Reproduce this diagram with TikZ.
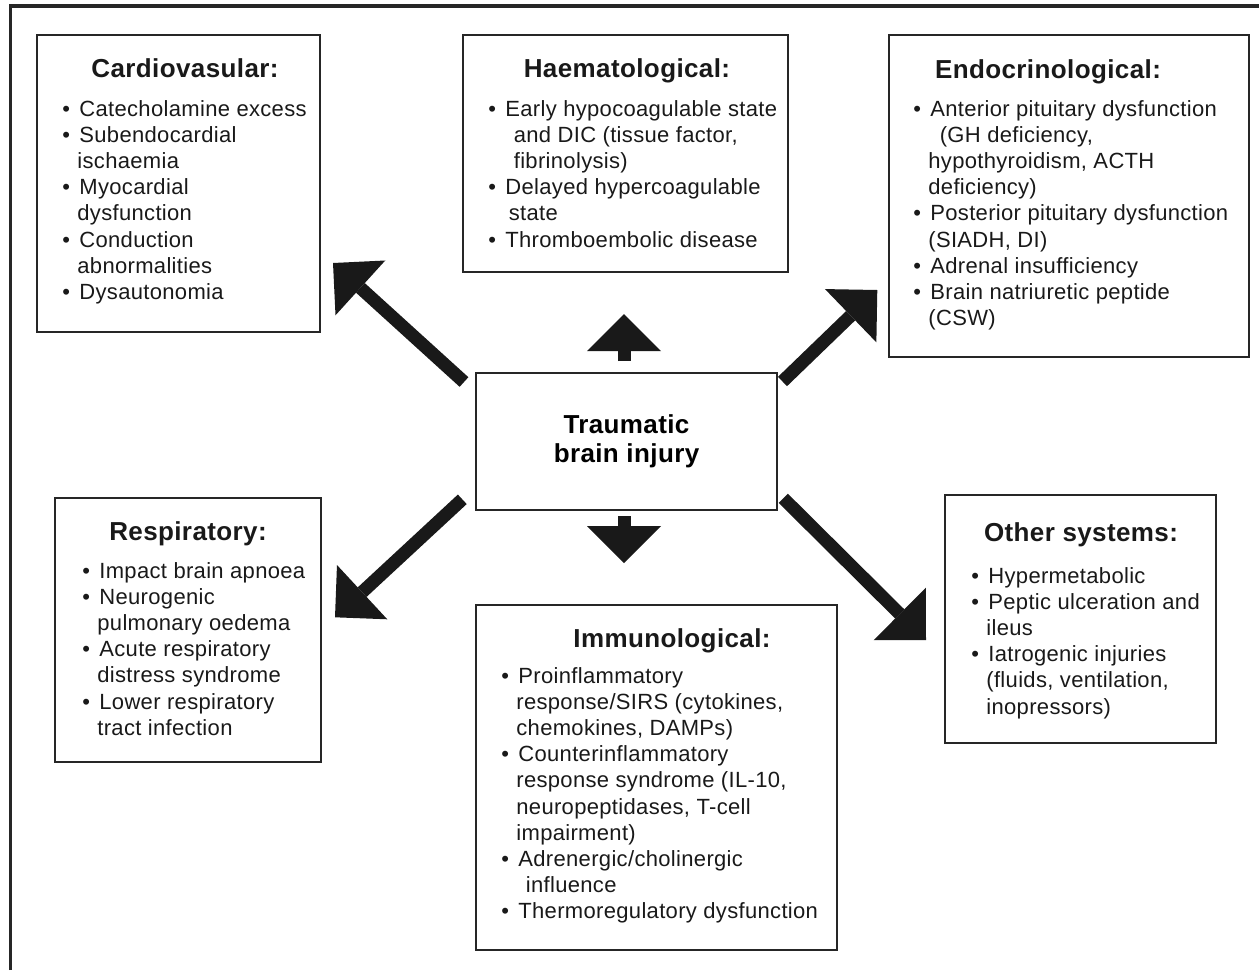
\documentclass[tikz,border=0pt]{standalone}
\usepackage{fontspec}
\setmainfont{Liberation Sans}[LetterSpace=1.5]
\usetikzlibrary{arrows.meta}

\newcommand{\bul}{\makebox[8.5pt][l]{\textbullet}}
\newcommand{\cont}[1][7.5pt]{\hspace*{#1}}
\newcommand{\sublist}[1]{\begin{tabular}[t]{@{}l@{}}#1\end{tabular}}

\begin{document}
\begin{tikzpicture}[x=0.5pt,y=-0.5pt,
    box/.style={draw=black!85,line width=1pt,anchor=north west,inner sep=0pt},
    sysname/.style={anchor=base,inner sep=0pt,text=black!90,font=\fontsize{13}{15}\selectfont\bfseries},
    items/.style={anchor=base west,inner sep=0pt,text=black!90,font=\fontsize{11}{13.1}\selectfont},
    bigarrow/.style={line width=6.5pt,black!90,-{Triangle[length=18.5pt,width=37pt,line width=0pt]}}]
    \useasboundingbox (0,0) rectangle (1259,970);
    \draw[line width=1.8pt,black!85] (10.5,970) |- (1259,5.8);

    % boxes
    \node[box,minimum width=141.5pt,minimum height=148.5pt] (cardio) at (36,34) {};
    \node[box,minimum width=162.5pt,minimum height=118.5pt] (haem) at (462,34) {};
    \node[box,minimum width=180pt,minimum height=161pt] (endo) at (888,34) {};
    \node[box,minimum width=150.5pt,minimum height=68.5pt,align=center,anchor=north west,
          font=\fontsize{13}{14.5}\selectfont\bfseries] (tbi) at (475,372) {Traumatic\\brain injury};
    \node[box,minimum width=133pt,minimum height=132pt] (resp) at (54,497) {};
    \node[box,minimum width=180.5pt,minimum height=172.5pt] (immuno) at (475,604) {};
    \node[box,minimum width=135.5pt,minimum height=124pt] (other) at (944,494) {};

    \node[sysname] (cardiot) at (185,77) {Cardiovasular:};
    \node[items] (cardiol) at (62,116) {\sublist{
        \bul Catecholamine excess\\
        \bul Subendocardial\\
        \cont ischaemia\\
        \bul Myocardial\\
        \cont dysfunction\\
        \bul Conduction\\
        \cont abnormalities\\
        \bul Dysautonomia}};

    \node[sysname] (haemt) at (627,77) {Haematological:};
    \node[items] (haeml) at (488,116) {\sublist{
        \bul Early hypocoagulable state\\
        \cont[9.5pt] and DIC (tissue factor,\\
        \cont[9.5pt] fibrinolysis)\\
        \bul Delayed hypercoagulable\\
        \cont[7pt] state\\
        \bul Thromboembolic disease}};

    \node[sysname] (endot) at (1048,78) {Endocrinological:};
    \node[items] (endol) at (913,116) {\sublist{
        \bul Anterior pituitary dysfunction\\
        \cont[10pt] (GH deficiency,\\
        \cont hypothyroidism, ACTH\\
        \cont deficiency)\\
        \bul Posterior pituitary dysfunction\\
        \cont (SIADH, DI)\\
        \bul Adrenal insufficiency\\
        \bul Brain natriuretic peptide\\
        \cont (CSW)}};

    \node[sysname] (respt) at (188,540) {Respiratory:};
    \node[items] (respl) at (82,578) {\sublist{
        \bul Impact brain apnoea\\
        \bul Neurogenic\\
        \cont pulmonary oedema\\
        \bul Acute respiratory\\
        \cont distress syndrome\\
        \bul Lower respiratory\\
        \cont tract infection}};

    \node[sysname] (immunot) at (672,647) {Immunological:};
    \node[items] (immunol) at (501,683) {\sublist{
        \bul Proinflammatory\\
        \cont response/SIRS (cytokines,\\
        \cont chemokines, DAMPs)\\
        \bul Counterinflammatory\\
        \cont response syndrome (IL-10,\\
        \cont neuropeptidases, T-cell\\
        \cont impairment)\\
        \bul Adrenergic/cholinergic\\
        \cont[9pt] influence\\
        \bul Thermoregulatory dysfunction}};

    \node[sysname] (othert) at (1081,541) {Other systems:};
    \node[items] (otherl) at (971,583) {\sublist{
        \bul Hypermetabolic\\
        \bul Peptic ulceration and\\
        \cont ileus\\
        \bul Iatrogenic injuries\\
        \cont (fluids, ventilation,\\
        \cont inopressors)}};

    % arrows out of the centre box
    \coordinate (nw0) at (464,382);   \coordinate (nw1) at (333,263);
    \coordinate (n0) at (624,361);    \coordinate (n1) at (624,314);
    \coordinate (ne0) at (782.5,381.5); \coordinate (ne1) at (877.3,290);
    \coordinate (sw0) at (462.3,499.3); \coordinate (sw1) at (335,617.3);
    \coordinate (s0) at (624,516);    \coordinate (s1) at (624,563);
    \coordinate (se0) at (783.3,498.3); \coordinate (se1) at (926,640);
    \foreach \d in {nw,n,ne,sw,s,se}
        \draw[bigarrow] (\d0) -- (\d1);
\end{tikzpicture}
\end{document}
